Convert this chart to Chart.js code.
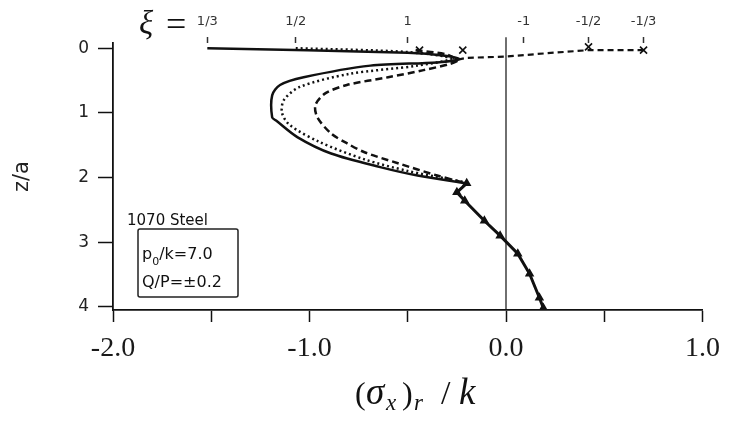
<!DOCTYPE html>
<html>
<head>
<meta charset="utf-8">
<script src="https://cdn.jsdelivr.net/npm/chart.js@4.4.1/dist/chart.umd.min.js"></script>
<style>
  html, body { margin: 0; padding: 0; background: #fff; }
  #wrap { width: 730px; height: 421px; position: relative; }
</style>
</head>
<body>
<div id="wrap"><canvas id="chart" width="730" height="421"></canvas></div>
<script>
// residual stress profiles, (sigma_x)_r / k against depth z/a
// xi = 1/3, solid
const solidX = [-1.52, -0.5, -0.3, -0.24, -0.35, -0.69, -1.03, -1.15, -1.19, -1.19, -1.17, -1.06, -0.89, -0.64, -0.45, -0.2];
const solidZ = [0.0, 0.07, 0.12, 0.17, 0.22, 0.27, 0.45, 0.57, 0.73, 1.07, 1.12, 1.38, 1.63, 1.84, 1.97, 2.09];
// xi = 1/2, dotted
const dotX = [-1.07, -0.5, -0.28, -0.45, -0.8, -1.05, -1.13, -1.14, -1.1, -0.95, -0.72, -0.5, -0.3, -0.2];
const dotZ = [0.0, 0.06, 0.16, 0.27, 0.4, 0.6, 0.8, 1.0, 1.19, 1.45, 1.72, 1.9, 2.02, 2.08];
// xi = 1, dashed
const dashX = [-0.46, -0.3, -0.25, -0.42, -0.6, -0.81, -0.92, -0.97, -0.96, -0.89, -0.81, -0.72, -0.55, -0.35, -0.2];
const dashZ = [0.03, 0.1, 0.2, 0.34, 0.45, 0.57, 0.7, 0.88, 1.07, 1.32, 1.47, 1.61, 1.78, 1.97, 2.09];
// xi = -1, -1/2, -1/3 near the surface, dashed
const negX = [0.7, 0.42, 0.2, 0.0, -0.2, -0.28];
const negZ = [0.03, 0.03, 0.08, 0.13, 0.15, 0.2];
// common deep part of all profiles
const deepX = [-0.2, -0.25, -0.21, -0.11, -0.03, 0.06, 0.12, 0.17, 0.19];
const deepZ = [2.09, 2.23, 2.36, 2.67, 2.9, 3.18, 3.49, 3.86, 4.02];
// surface values marked with crosses
const crossX = [-0.44, -0.22, 0.42, 0.7];
const crossZ = [0.03, 0.03, -0.02, 0.03];
// top scale: surface stress for each xi
const xiVals = [-1.52, -1.07, -0.5, 0.09, 0.42, 0.7];
const xiLabels = ['1/3', '1/2', '1', '-1', '-1/2', '-1/3'];
const zTicks = [0, 1, 2, 3, 4];

const ink = '#111';

function pts(xs, zs) {
  return xs.map((x, i) => ({ x: x, y: zs[i] }));
}

const labelsPlugin = {
  id: 'labels',
  afterDraw(chart) {
    const ctx = chart.ctx;
    ctx.save();
    ctx.fillStyle = ink;
    ctx.textBaseline = 'alphabetic';
    // xi =
    ctx.font = 'italic 33px "Liberation Serif"';
    ctx.fillText('\u03BE', 139, 34);
    ctx.font = '36px "Liberation Serif"';
    ctx.fillText('=', 166, 36);

    // x axis title (sigma_x)_r / k
    const y = 404;
    const put = (t, font, x, dy) => {
      ctx.font = font;
      ctx.fillText(t, x, y + (dy || 0));
    };
    put('(', '32px "Liberation Serif"', 355);
    put('\u03C3', 'italic 37px "Liberation Serif"', 366);
    put('x', 'italic 23px "Liberation Serif"', 386, 6);
    put(')', '32px "Liberation Serif"', 402);
    put('r', 'italic 23px "Liberation Serif"', 414, 6);
    put('/', '34px "Liberation Serif"', 441);
    put('k', 'italic 37px "Liberation Serif"', 459);

    // material box
    ctx.font = '15px "DejaVu Sans"';
    ctx.fillText('1070 Steel', 127, 225);
    ctx.strokeStyle = '#222';
    ctx.lineWidth = 1.5;
    ctx.beginPath();
    ctx.roundRect(138, 229, 100, 68, 2);
    ctx.stroke();
    let x = 142;
    ctx.font = '16px "DejaVu Sans"';
    ctx.fillText('p', x, 259);
    x += ctx.measureText('p').width;
    ctx.font = '11px "DejaVu Sans"';
    ctx.fillText('0', x, 265);
    x += ctx.measureText('0').width;
    ctx.font = '16px "DejaVu Sans"';
    ctx.fillText('/k=7.0', x, 259);
    ctx.fillText('Q/P=\u00B10.2', 142, 287);
    ctx.restore();
  }
};

new Chart(document.getElementById('chart'), {
  type: 'scatter',
  data: {
    datasets: [
      { data: [{ x: 0, y: -0.17 }, { x: 0, y: 4.05 }], showLine: true, borderColor: ink, borderWidth: 1.2, pointRadius: 0, clip: false },
      { data: pts(solidX, solidZ), showLine: true, borderColor: ink, borderWidth: 2.5, pointRadius: 0, tension: 0.3 },
      { data: pts(dotX, dotZ), showLine: true, borderColor: ink, borderWidth: 2.5, borderDash: [2, 3], pointRadius: 0, tension: 0.3 },
      { data: pts(dashX, dashZ), showLine: true, borderColor: ink, borderWidth: 2.5, borderDash: [7, 4], pointRadius: 0, tension: 0.3 },
      { data: pts(negX, negZ), showLine: true, borderColor: ink, borderWidth: 2.2, borderDash: [6, 4], pointRadius: 0 },
      { data: pts(deepX, deepZ), showLine: true, borderColor: ink, borderWidth: 3, pointStyle: 'triangle', pointRadius: 2.5, pointBackgroundColor: ink, pointBorderColor: ink },
      { data: pts(crossX, crossZ), showLine: false, pointStyle: 'crossRot', pointRadius: 5, borderColor: ink, borderWidth: 1.6, clip: false }
    ]
  },
  options: {
    responsive: false,
    animation: false,
    devicePixelRatio: 1,
    layout: { padding: { left: 0, right: 26, top: 0, bottom: 0 } },
    plugins: { legend: { display: false }, tooltip: { enabled: false } },
    scales: {
      x: {
        type: 'linear',
        position: 'bottom',
        min: -2.0,
        max: 1.0,
        grid: { drawOnChartArea: false, color: ink, tickLength: 12, tickWidth: 1.5 },
        border: { color: ink, width: 1.8 },
        ticks: {
          stepSize: 0.5,
          color: '#1a1a1a',
          padding: 10,
          maxRotation: 0,
          font: { family: 'Liberation Serif', size: 28 },
          callback: v => (v % 1 === 0 ? v.toFixed(1) : '')
        },
        afterFit: s => { s.height = 111; }
      },
      x2: {
        type: 'linear',
        position: 'top',
        min: -2.0,
        max: 1.0,
        grid: { drawOnChartArea: false, color: '#333', tickLength: 6, tickWidth: 1.5 },
        border: { display: false },
        afterBuildTicks: s => { s.ticks = xiVals.map(v => ({ value: v })); },
        ticks: {
          color: '#333',
          padding: 8,
          maxRotation: 0,
          autoSkip: false,
          font: { family: 'DejaVu Sans', size: 13 },
          callback: (v, i) => xiLabels[i]
        },
        afterFit: s => { s.height = 43; }
      },
      y: {
        type: 'linear',
        reverse: true,
        min: -0.08,
        max: 4.05,
        afterBuildTicks: s => { s.ticks = zTicks.map(v => ({ value: v })); },
        grid: { drawOnChartArea: false, color: ink, tickLength: 15, tickWidth: 1.5 },
        border: { color: ink, width: 1.8 },
        ticks: {
          color: '#222',
          padding: 9,
          font: { family: 'DejaVu Sans', size: 17 }
        },
        title: {
          display: true,
          text: 'z/a',
          color: '#222',
          padding: { top: 10, bottom: 0 },
          font: { family: 'DejaVu Sans', size: 21 }
        },
        afterFit: s => { s.width = 113; }
      }
    }
  },
  plugins: [labelsPlugin]
});
</script>
</body>
</html>
